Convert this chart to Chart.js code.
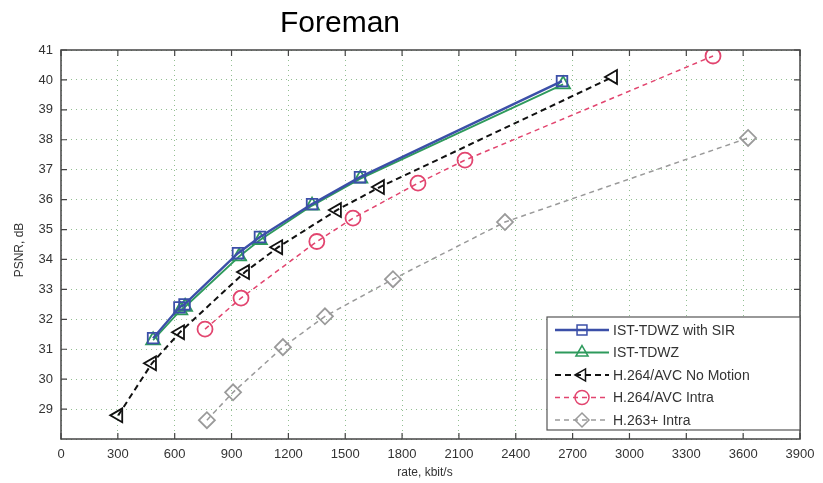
<!DOCTYPE html>
<html><head><meta charset="utf-8">
<script src="https://cdn.jsdelivr.net/npm/chart.js@4.4.0/dist/chart.umd.min.js"></script>
<style>html,body{margin:0;padding:0;background:#fff}#wrap{width:823px;height:483px}</style>
</head><body><div id="wrap"><canvas id="c" width="823" height="483"></canvas></div>
<script>
const seriesNames = ["IST-TDWZ with SIR","IST-TDWZ","H.264/AVC No Motion","H.264/AVC Intra","H.263+ Intra"];
const sirRate = [486,625,652,934,1050,1325,1578,2644];
const sirPsnr = [31.37,32.4,32.5,34.21,34.75,35.85,36.75,39.96];
const tdwzRate = [486,630,655,940,1050,1325,1580,2650];
const tdwzPsnr = [31.3,32.3,32.42,34.1,34.65,35.8,36.7,39.85];
const noMoRate = [302,480,628,971,1146,1456,1683,2913];
const noMoPsnr = [28.79,30.53,31.57,33.58,34.41,35.65,36.42,40.1];
const h264Rate = [760,950,1350,1541,1884,2132,3441];
const h264Psnr = [31.67,32.71,34.6,35.38,36.55,37.32,40.8];
const h263Rate = [770,908,1171,1393,1752,2343,3626];
const h263Psnr = [28.63,29.56,31.07,32.1,33.34,35.25,38.06];
const xTicks = [0,300,600,900,1200,1500,1800,2100,2400,2700,3000,3300,3600,3900];
const yTicks = [29,30,31,32,33,34,35,36,37,38,39,40,41];

const pts = (xs, ys) => xs.map((x, i) => ({x, y: ys[i]}));
const styles = [
  {c:'#3b4fa8', dash:[], ps:'rect', rot:0, w:2.4, r:7.5},
  {c:'#2e9a5c', dash:[], ps:'triangle', rot:0, w:1.8, r:8},
  {c:'#111111', dash:[6,4], ps:'triangle', rot:-90, w:2, r:8},
  {c:'#e2456f', dash:[5,4], ps:'circle', rot:0, w:1.5, r:7.5},
  {c:'#9a9a9a', dash:[5,4], ps:'rectRot', rot:0, w:1.5, r:8}
];
const dataSets = [pts(sirRate,sirPsnr), pts(tdwzRate,tdwzPsnr), pts(noMoRate,noMoPsnr), pts(h264Rate,h264Psnr), pts(h263Rate,h263Psnr)];
const datasets = dataSets.map((d, i) => ({
  label: seriesNames[i], data: d,
  borderColor: styles[i].c, backgroundColor: 'rgba(0,0,0,0)',
  borderWidth: styles[i].w, borderDash: styles[i].dash,
  pointStyle: styles[i].ps, pointRotation: styles[i].rot,
  pointRadius: styles[i].r, pointBorderWidth: 1.8, pointBorderColor: styles[i].c,
  pointBackgroundColor: 'rgba(0,0,0,0)', tension: 0
}));

const extras = {
  id: 'extras',
  afterDraw(chart) {
    const ctx = chart.ctx, a = chart.chartArea, xs = chart.scales.x, ys = chart.scales.y;
    ctx.save();
    ctx.strokeStyle = '#444'; ctx.lineWidth = 1.5; ctx.setLineDash([]);
    ctx.strokeRect(a.left, a.top, a.right - a.left, a.bottom - a.top);
    ctx.lineWidth = 1.2;
    xTicks.forEach(v => { const px = xs.getPixelForValue(v);
      ctx.beginPath(); ctx.moveTo(px, a.bottom); ctx.lineTo(px, a.bottom - 6);
      ctx.moveTo(px, a.top); ctx.lineTo(px, a.top + 6); ctx.stroke(); });
    yTicks.forEach(v => { const py = ys.getPixelForValue(v);
      ctx.beginPath(); ctx.moveTo(a.left, py); ctx.lineTo(a.left + 6, py);
      ctx.moveTo(a.right, py); ctx.lineTo(a.right - 6, py); ctx.stroke(); });
    ctx.fillStyle = '#000'; ctx.font = '30px "Liberation Sans", Arial, sans-serif';
    ctx.textAlign = 'center'; ctx.textBaseline = 'middle';
    ctx.fillText('Foreman', 340, 24);
    ctx.fillStyle = '#333'; ctx.font = '12px "Liberation Sans", Arial, sans-serif';
    ctx.fillText('rate, kbit/s', 425, 473);
    ctx.save(); ctx.translate(20, 250); ctx.rotate(-Math.PI / 2);
    ctx.fillText('PSNR, dB', 0, 0); ctx.restore();
    const lx = 547, ly = 317, lw = 253, lh = 113;
    ctx.fillStyle = '#fff'; ctx.fillRect(lx, ly, lw, lh);
    ctx.strokeStyle = '#555'; ctx.lineWidth = 1.2; ctx.strokeRect(lx, ly, lw, lh);
    ctx.font = '14px "Liberation Sans", Arial, sans-serif'; ctx.textAlign = 'left';
    seriesNames.forEach((n, i) => {
      const y = ly + 13 + i * 22.5, s = styles[i];
      ctx.strokeStyle = s.c; ctx.lineWidth = s.w; ctx.setLineDash(s.dash);
      ctx.beginPath(); ctx.moveTo(lx + 8, y); ctx.lineTo(lx + 62, y); ctx.stroke();
      ctx.setLineDash([]); ctx.lineWidth = 1.5;
      ctx.fillStyle = 'rgba(0,0,0,0)';
      Chart.helpers.drawPoint(ctx, {pointStyle: s.ps, rotation: s.rot, radius: 7, borderWidth: 1.5}, lx + 35, y);
      ctx.fillStyle = '#333'; ctx.textBaseline = 'middle';
      ctx.fillText(n, lx + 66, y + 1);
    });
    ctx.restore();
  }
};

new Chart(document.getElementById('c'), {
  type: 'line',
  data: { datasets },
  options: {
    responsive: false, animation: false, devicePixelRatio: 1,
    layout: { padding: { top: 50, right: 23, left: 0, bottom: 0 } },
    plugins: { legend: { display: false }, title: { display: false }, tooltip: { enabled: false } },
    scales: {
      x: { type: 'linear', min: 0, max: 3900,
        afterBuildTicks: s => { s.ticks = xTicks.map(v => ({value: v})); },
        afterFit: s => { s.height = 44; },
        grid: { color: 'rgba(110,170,110,0.75)', lineWidth: 1, drawTicks: false },
        border: { display: false, dash: [1,4] },
        ticks: { color: '#333', font: { size: 13, family: '"Liberation Sans", Arial, sans-serif' }, padding: 8, maxRotation: 0, autoSkip: false,
          callback: v => String(v) }
      },
      y: { type: 'linear', min: 28, max: 41,
        afterBuildTicks: s => { s.ticks = [28].concat(yTicks).map(v => ({value: v})); },
        afterFit: s => { s.width = 61; },
        grid: { color: 'rgba(110,170,110,0.75)', lineWidth: 1, drawTicks: false },
        border: { display: false, dash: [1,4] },
        ticks: { color: '#333', font: { size: 13, family: '"Liberation Sans", Arial, sans-serif' }, padding: 8,
          callback: v => v === 28 ? '' : String(v) }
      }
    }
  },
  plugins: [extras]
});
</script></body></html>
